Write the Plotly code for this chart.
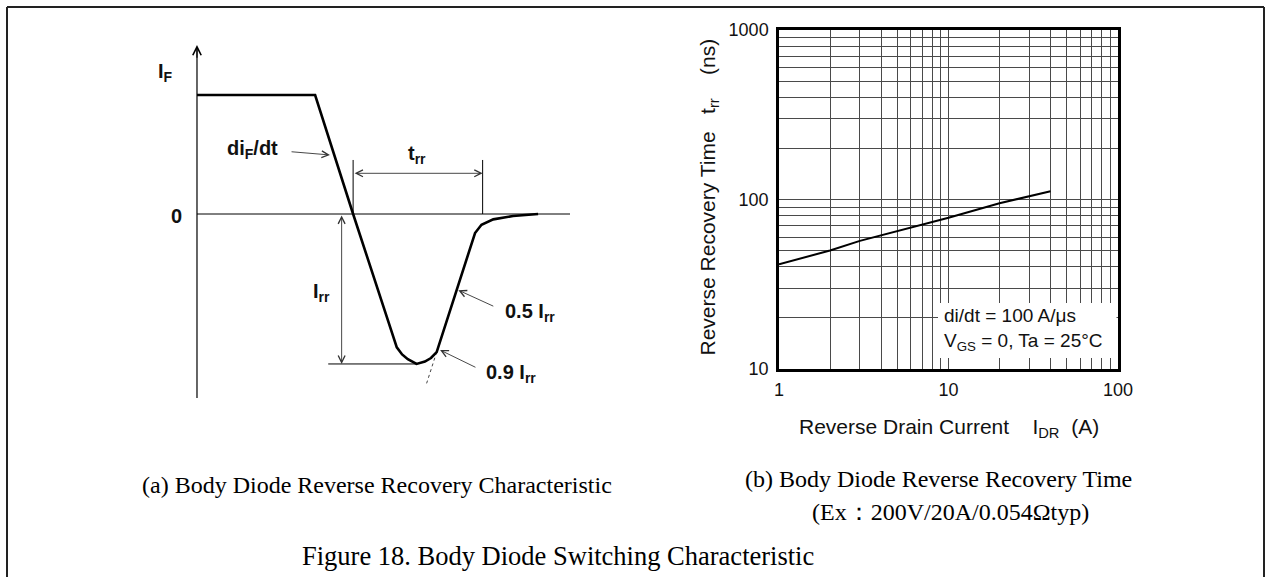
import plotly.graph_objects as go

W, H = 1266, 577

# ---------------- (b) Reverse recovery time vs reverse drain current ----------------
idr_a = [1, 2, 3, 5, 10, 20, 40]
trr_ns = [41.5, 50, 57, 65, 78, 95, 112]

x_tickvals = [1, 2, 3, 4, 5, 6, 7, 8, 9, 10, 20, 30, 40, 50, 60, 70, 80, 90, 100]
x_ticktext = ["1", "", "", "", "", "", "", "", "", "10", "", "", "", "", "", "", "", "", "100"]
y_tickvals = [10, 20, 30, 40, 50, 60, 70, 80, 90, 100, 200, 300, 400, 500, 600, 700, 800, 900, 1000]
y_ticktext = ["10", "", "", "", "", "", "", "", "", "100", "", "", "", "", "", "", "", "", "1000"]

# ---------------- (a) schematic recovery waveform (time units, current in units of I_F) ----------------
t_wave = [0.0, 3.11, 4.11, 5.26, 5.40, 5.55, 5.78, 6.00, 6.16, 6.31, 7.32, 7.49, 7.80, 8.32, 8.98]
i_wave = [1.0, 1.0, 0.0, -1.12, -1.18, -1.22, -1.26, -1.24, -1.21, -1.16, -0.16, -0.09, -0.045, -0.017, 0.0]

t_zero = [0.0, 9.82]          # zero-current reference line
i_zero = [0.0, 0.0]
t_vaxis = [0.0, 0.0]          # current axis
i_vaxis = [-1.546, 1.40]
t_irr_base = [3.455, 5.78]    # I_rr level line
i_irr_base = [-1.26, -1.26]
t_trr_marks = [4.11, 4.11, None, 7.52, 7.52]   # t_rr extent markers
i_trr_marks = [0.0, 0.454, None, 0.0, 0.454]
t_tangent = [6.31, 6.045]     # dashed tangent extension
i_tangent = [-1.16, -1.423]


def px(x):
    return x / W


def py(y):
    return 1 - y / H


fig = go.Figure(layout=dict(template="none"))

# left schematic traces
common_a = dict(xaxis="x2", yaxis="y2", mode="lines", hoverinfo="skip", showlegend=False, cliponaxis=False)
fig.add_trace(go.Scatter(x=t_zero, y=i_zero, line=dict(color="black", width=1), **common_a))
fig.add_trace(go.Scatter(x=t_vaxis, y=i_vaxis, line=dict(color="black", width=1.2), **common_a))
fig.add_trace(go.Scatter(x=t_irr_base, y=i_irr_base, line=dict(color="black", width=1), **common_a))
fig.add_trace(go.Scatter(x=t_trr_marks, y=i_trr_marks, line=dict(color="black", width=1), **common_a))
fig.add_trace(go.Scatter(x=t_tangent, y=i_tangent, line=dict(color="#444", width=1, dash="3px,3px"), **common_a))
fig.add_trace(go.Scatter(x=t_wave, y=i_wave, line=dict(color="black", width=2.6), **common_a))

# right chart trace
fig.add_trace(go.Scatter(x=idr_a, y=trr_ns, mode="lines", line=dict(color="black", width=2),
                         hoverinfo="skip", showlegend=False))

tickfont = dict(family="Liberation Sans, Arial", size=18, color="#111")
fig.update_layout(
    width=W, height=H,
    margin=dict(l=0, r=0, t=0, b=0, pad=0, autoexpand=False),
    paper_bgcolor="white", plot_bgcolor="white",
    showlegend=False,
    xaxis=dict(type="log", range=[0, 2], domain=[px(779), px(1118)], automargin=False,
               tickvals=x_tickvals, ticktext=x_ticktext, tickfont=tickfont,
               showgrid=True, gridcolor="#4a4a4a", gridwidth=1,
               showline=True, linecolor="black", linewidth=2.5, mirror=True,
               ticks="", ticklabelstandoff=3, zeroline=False, fixedrange=True),
    yaxis=dict(type="log", range=[1, 3], domain=[py(369), py(30)], automargin=False,
               tickvals=y_tickvals, ticktext=y_ticktext, tickfont=tickfont,
               showgrid=True, gridcolor="#4a4a4a", gridwidth=1,
               showline=True, linecolor="black", linewidth=2.5, mirror=True,
               ticks="", ticklabelstandoff=4, zeroline=False, fixedrange=True),
    xaxis2=dict(range=[-1.237, 9.82], domain=[px(150), px(570)], visible=False, anchor="y2",
                automargin=False, fixedrange=True),
    yaxis2=dict(range=[-1.546, 1.420], domain=[py(398), py(45)], visible=False, anchor="x2",
                automargin=False, fixedrange=True),
)

# outer frame
frame = dict(color="#222", width=2)
fig.add_shape(type="line", xref="paper", yref="paper", x0=px(7), x1=px(1264), y0=py(7), y1=py(7), line=frame)
fig.add_shape(type="line", xref="paper", yref="paper", x0=px(7), x1=px(7), y0=py(7), y1=py(577), line=frame)
fig.add_shape(type="line", xref="paper", yref="paper", x0=px(1264), x1=px(1264), y0=py(7), y1=py(577), line=frame)

# white box behind the conditions text
fig.add_shape(type="rect", xref="paper", yref="paper", x0=px(938), x1=px(1116.5), y0=py(358), y1=py(303),
              fillcolor="white", line=dict(width=0), layer="above")

ann = []
sans = "Liberation Sans, Arial"
serif = "Liberation Serif, Times New Roman"
nb = "\u00a0"


def paper_text(x, y, text, font, xanchor="center", **kw):
    ann.append(dict(xref="paper", yref="paper", x=px(x), y=py(y), xanchor=xanchor, yanchor="middle",
                    text=text, showarrow=False, font=font, **kw))


# right chart texts
paper_text(942, 329, "di/dt = 100 A/μs<br>V<sub>GS</sub> = 0, Ta = 25°C",
           dict(family=sans, size=19, color="#111"), xanchor="left", align="left")
paper_text(708, 197.5, "Reverse Recovery Time" + nb * 3 + "t<sub>rr</sub>" + nb * 4 + "(ns)",
           dict(family=sans, size=21, color="#111"), textangle=-90)
paper_text(948.5, 428, "Reverse Drain Current" + nb * 4 + "I<sub>DR</sub>" + nb * 2 + "(A)",
           dict(family=sans, size=21, color="#111"))

# captions
paper_text(377, 485, "(a) Body Diode Reverse Recovery Characteristic", dict(family=serif, size=24, color="black"))
paper_text(938, 479, "(b) Body Diode Reverse Recovery Time", dict(family=serif, size=24, color="black"))
paper_text(950, 512, "(Ex\uff1a200V/20A/0.054Ωtyp)", dict(family=serif, size=24, color="black"))
paper_text(558, 556, "Figure 18. Body Diode Switching Characteristic", dict(family=serif, size=26.5, color="black"))

# left schematic labels
lab = dict(family=sans, size=20, color="#111")


def diag_text(t, i, text, xanchor="center"):
    ann.append(dict(xref="x2", yref="y2", x=t, y=i, xanchor=xanchor, yanchor="middle",
                    showarrow=False, text=text, font=lab))


diag_text(-0.84, 1.19, "<b>I<sub>F</sub></b>")
diag_text(-0.53, -0.02, "<b>0</b>")
diag_text(1.45, 0.54, "<b>di<sub>F</sub>/dt</b>")
diag_text(5.79, 0.50, "<b>t<sub>rr</sub></b>")
diag_text(3.29, -0.66, "<b>I<sub>rr</sub></b>")
diag_text(8.05, -0.83, "<b>0.5 I<sub>rr</sub></b>", xanchor="left")
diag_text(7.55, -1.34, "<b>0.9 I<sub>rr</sub></b>", xanchor="left")

# arrows in the schematic
arrow = dict(xref="x2", yref="y2", axref="x2", ayref="y2", text="", showarrow=True,
             arrowhead=5, arrowsize=1.5, arrowwidth=0.9, arrowcolor="#333")
ann.append(dict(arrow, x=0.0, y=1.42, ax=0.0, ay=1.30, arrowcolor="black", arrowwidth=1.1))
ann.append(dict(arrow, x=3.50, y=0.496, ax=2.45, ay=0.524))
ann.append(dict(arrow, x=7.52, y=0.342, ax=4.11, ay=0.342, arrowside="end+start", startarrowhead=5,
                startarrowsize=1.5))
ann.append(dict(arrow, x=3.808, y=-1.26, ax=3.808, ay=0.0, arrowside="end+start", startarrowhead=5,
                startarrowsize=1.5))
ann.append(dict(arrow, x=6.88, y=-0.64, ax=7.84, ay=-0.78))
ann.append(dict(arrow, x=6.40, y=-1.143, ax=7.37, ay=-1.294))

fig.update_layout(annotations=ann)

fig.write_html("out.html", config={"displayModeBar": False},
               post_script="document.body.style.margin='0';document.body.style.overflow='hidden';")
